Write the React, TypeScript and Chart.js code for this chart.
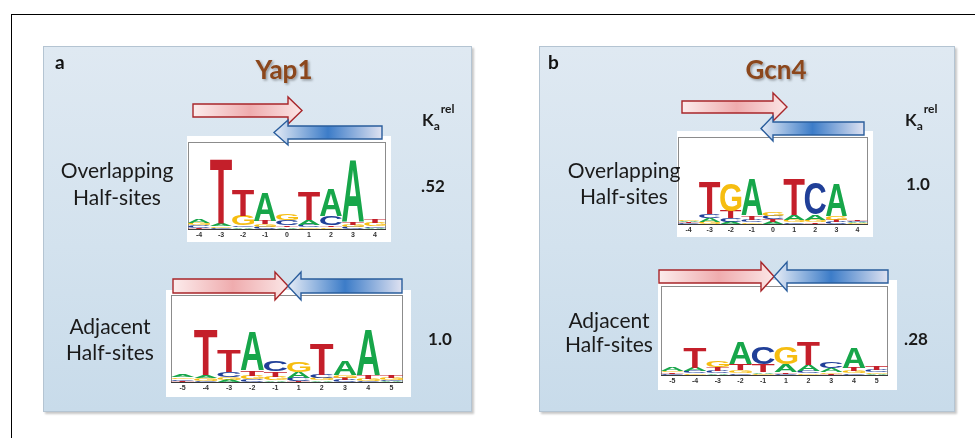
import React, { useEffect, useRef } from 'react';
import { Chart, registerables } from 'chart.js';
Chart.register(...registerables);

// ---------- data (information content in bits, read from the logos) ----------
const yap1OverlapPositions = ['-4', '-3', '-2', '-1', '0', '1', '2', '3', '4'];
const yap1OverlapA = [0.08, 0.06, 0.04, 0.64, 0.04, 0.12, 0.61, 1.42, 0.03];
const yap1OverlapC = [0.05, 0.02, 0.04, 0.05, 0.13, 0.05, 0.21, 0.05, 0.03];
const yap1OverlapG = [0.05, 0.04, 0.23, 0.06, 0.14, 0.04, 0.04, 0.05, 0.08];
const yap1OverlapT = [0.03, 1.47, 0.59, 0.08, 0.04, 0.64, 0.04, 0.06, 0.09];

const yap1AdjacentPositions = ['-5', '-4', '-3', '-2', '-1', '1', '2', '3', '4', '5'];
const yap1AdjacentA = [0.05, 0.07, 0.05, 0.9, 0.04, 0.13, 0.04, 0.32, 1.04, 0.02];
const yap1AdjacentC = [0.04, 0.03, 0.12, 0.06, 0.23, 0.08, 0.08, 0.05, 0.03, 0.03];
const yap1AdjacentG = [0.04, 0.05, 0.06, 0.08, 0.08, 0.23, 0.05, 0.06, 0.05, 0.05];
const yap1AdjacentT = [0.03, 1.04, 0.5, 0.12, 0.12, 0.02, 0.72, 0.05, 0.08, 0.06];

const gcn4OverlapPositions = ['-4', '-3', '-2', '-1', '0', '1', '2', '3', '4'];
const gcn4OverlapA = [0.03, 0.09, 0.05, 0.82, 0.05, 0.11, 0.11, 0.75, 0.03];
const gcn4OverlapC = [0.02, 0.1, 0.08, 0.06, 0.08, 0.04, 0.73, 0.05, 0.03];
const gcn4OverlapG = [0.03, 0.05, 0.63, 0.04, 0.09, 0.06, 0.06, 0.08, 0.02];
const gcn4OverlapT = [0.02, 0.73, 0.17, 0.09, 0.06, 0.82, 0.04, 0.05, 0.04];

const gcn4AdjacentPositions = ['-5', '-4', '-3', '-2', '-1', '1', '2', '3', '4', '5'];
const gcn4AdjacentA = [0.07, 0.07, 0.04, 0.5, 0.04, 0.17, 0.13, 0.08, 0.47, 0.03];
const gcn4AdjacentC = [0.03, 0.05, 0.05, 0.04, 0.39, 0.03, 0.06, 0.15, 0.04, 0.05];
const gcn4AdjacentG = [0.04, 0.04, 0.13, 0.07, 0.03, 0.39, 0.04, 0.04, 0.05, 0.04];
const gcn4AdjacentT = [0.03, 0.47, 0.08, 0.13, 0.17, 0.04, 0.52, 0.03, 0.07, 0.07];

const yap1Ka = ['.52', '1.0'];
const gcn4Ka = ['1.0', '.28'];

const letterColors: Record<string, string> = {
  A: '#17a64a',
  C: '#203f98',
  G: '#f6bd10',
  T: '#c41f2a',
};

// ---------- chart helpers ----------
const glyphPlugin = {
  id: 'glyphs',
  beforeDatasetsDraw(chart: any) {
    const { ctx, chartArea: a } = chart;
    ctx.save();
    ctx.strokeStyle = '#8c8c8c';
    ctx.lineWidth = 1;
    ctx.strokeRect(Math.round(a.left) + 0.5, Math.round(a.top) + 0.5, Math.round(a.right - a.left) - 1, Math.round(a.bottom - a.top));
    ctx.restore();
  },
  afterDatasetsDraw(chart: any) {
    const { ctx, chartArea: a } = chart;
    ctx.save();
    ctx.font = 'bold 200px "Liberation Sans", Arial, sans-serif';
    ctx.textBaseline = 'alphabetic';
    ctx.textAlign = 'left';
    chart.data.datasets.forEach((ds: any, di: number) => {
      const meta = chart.getDatasetMeta(di);
      meta.data.forEach((el: any, i: number) => {
        const letter = ds.letters[i];
        const { x, y, base, width } = el.getProps(['x', 'y', 'base', 'width'], true);
        const top = Math.min(y, base);
        const h = Math.abs(base - y);
        if (h < 0.3) return;
        const m = ctx.measureText(letter);
        const gw = m.actualBoundingBoxLeft + m.actualBoundingBoxRight;
        const gh = m.actualBoundingBoxAscent + m.actualBoundingBoxDescent;
        ctx.save();
        ctx.translate(x - width / 2, top);
        ctx.scale(width / gw, h / gh);
        ctx.fillStyle = letterColors[letter];
        ctx.fillText(letter, m.actualBoundingBoxLeft, m.actualBoundingBoxAscent);
        ctx.restore();
      });
    });
    ctx.strokeStyle = '#3a3a3a';
    ctx.lineWidth = 1;
    ctx.beginPath();
    ctx.moveTo(a.left, Math.round(a.bottom) + 0.5);
    ctx.lineTo(a.right, Math.round(a.bottom) + 0.5);
    ctx.stroke();
    ctx.restore();
  },
};

type LogoProps = {
  positions: string[];
  A: number[];
  C: number[];
  G: number[];
  T: number[];
  left: number;
  top: number;
  width: number;
  height: number;
  padL: number;
  padR: number;
  padT: number;
  axisH: number;
};

function Logo(p: LogoProps) {
  const ref = useRef<HTMLCanvasElement | null>(null);
  useEffect(() => {
    const letters = ['A', 'C', 'G', 'T'];
    const cols = p.positions.map((_, i) => {
      const vals = [p.A[i], p.C[i], p.G[i], p.T[i]];
      return letters.map((l, k) => ({ l, v: vals[k] })).sort((a, b) => a.v - b.v);
    });
    const datasets = [0, 1, 2, 3].map((r) => ({
      data: cols.map((col) => {
        let s = 0;
        for (let k = 0; k < r; k++) s += col[k].v;
        return [s, s + col[r].v];
      }),
      letters: cols.map((col) => col[r].l),
      backgroundColor: 'rgba(0,0,0,0)',
      borderWidth: 0,
      barPercentage: 1,
      categoryPercentage: 1,
      grouped: false,
    }));
    const chart = new Chart(ref.current as HTMLCanvasElement, {
      type: 'bar',
      data: { labels: p.positions, datasets: datasets as any },
      options: {
        animation: false,
        responsive: false,
        maintainAspectRatio: false,
        layout: { padding: { left: p.padL, right: p.padR, top: p.padT, bottom: 0 } },
        plugins: { legend: { display: false }, tooltip: { enabled: false } },
        scales: {
          x: {
            grid: { display: false, drawTicks: false },
            border: { display: false },
            ticks: {
              color: '#333',
              padding: 2,
              maxRotation: 0,
              autoSkip: false,
              font: { size: 7, weight: 'bold', family: '"Liberation Sans", Arial, sans-serif' },
            },
            afterFit: (s: any) => {
              s.height = p.axisH;
            },
          },
          y: { display: false, min: 0, max: 2 },
        },
      } as any,
      plugins: [glyphPlugin],
    });
    return () => chart.destroy();
  }, []);
  return (
    <div style={{ position: 'absolute', left: p.left, top: p.top, width: p.width, height: p.height, background: '#fff' }}>
      <canvas ref={ref} width={p.width} height={p.height} style={{ display: 'block' }} />
    </div>
  );
}

type ArrowDef = { x0: number; x1: number; xh: number; y0: number; y1: number; hy0: number; hy1: number };

function arrowPath(a: ArrowDef, dir: 'r' | 'l') {
  const mid = (a.hy0 + a.hy1) / 2;
  if (dir === 'r') {
    return `M${a.x0},${a.y0} L${a.xh},${a.y0} L${a.xh},${a.hy0} L${a.x1},${mid} L${a.xh},${a.hy1} L${a.xh},${a.y1} L${a.x0},${a.y1} Z`;
  }
  return `M${a.x1},${a.y0} L${a.xh},${a.y0} L${a.xh},${a.hy0} L${a.x0},${mid} L${a.xh},${a.hy1} L${a.xh},${a.y1} L${a.x1},${a.y1} Z`;
}

const arrows: { d: ArrowDef; dir: 'r' | 'l' }[] = [
  { d: { x0: 193, x1: 302, xh: 288, y0: 104, y1: 117, hy0: 97, hy1: 124 }, dir: 'r' },
  { d: { x0: 274, x1: 382, xh: 288, y0: 126, y1: 139, hy0: 120, hy1: 145 }, dir: 'l' },
  { d: { x0: 173, x1: 288, xh: 275, y0: 279, y1: 293, hy0: 272, hy1: 300 }, dir: 'r' },
  { d: { x0: 288, x1: 402, xh: 301, y0: 279, y1: 293, hy0: 272, hy1: 300 }, dir: 'l' },
  { d: { x0: 682, x1: 787, xh: 773, y0: 101, y1: 113, hy0: 93, hy1: 121 }, dir: 'r' },
  { d: { x0: 761, x1: 864, xh: 773, y0: 122, y1: 135, hy0: 116, hy1: 141 }, dir: 'l' },
  { d: { x0: 659, x1: 774, xh: 761, y0: 270, y1: 283, hy0: 262, hy1: 291 }, dir: 'r' },
  { d: { x0: 774, x1: 888, xh: 787, y0: 270, y1: 283, hy0: 262, hy1: 291 }, dir: 'l' },
];

const panelStyle = (left: number, width: number): React.CSSProperties => ({
  position: 'absolute',
  left,
  top: 46,
  width,
  height: 366,
  boxSizing: 'border-box',
  border: '1px solid #b4c4d2',
  background: 'linear-gradient(to bottom, #dfe9f2 0%, #d3e2ee 55%, #c8dbea 100%)',
  boxShadow: '2px 2px 2px rgba(0,0,0,0.22)',
});

const labelFont = 'Lato, "Open Sans", sans-serif';

function KaLabel({ x, y }: { x: number; y: number }) {
  return (
    <text x={x} y={y} fontFamily={labelFont} fontWeight="bold" fontSize={17} fill="#1a1a1a">
      K
      <tspan fontSize={12} dy={4}>a</tspan>
      <tspan fontSize={12} dx={1} dy={-17}>rel</tspan>
    </text>
  );
}

export default function App() {
  return (
    <div style={{ position: 'absolute', left: 0, top: 0, width: 975, height: 438, overflow: 'hidden', background: '#fff' }}>
      <div style={{ position: 'absolute', left: 11, top: 14, width: 980, height: 440, borderTop: '1.5px solid #000', borderLeft: '1.5px solid #000' }} />
      <div style={panelStyle(43, 429)} />
      <div style={panelStyle(539, 416)} />

      <Logo positions={yap1OverlapPositions} A={yap1OverlapA} C={yap1OverlapC} G={yap1OverlapG} T={yap1OverlapT}
        left={187} top={136} width={204} height={106} padL={1} padR={5} padT={6} axisH={13} />
      <Logo positions={yap1AdjacentPositions} A={yap1AdjacentA} C={yap1AdjacentC} G={yap1AdjacentG} T={yap1AdjacentT}
        left={166} top={290} width={245} height={107} padL={5} padR={8} padT={5} axisH={15} />
      <Logo positions={gcn4OverlapPositions} A={gcn4OverlapA} C={gcn4OverlapC} G={gcn4OverlapG} T={gcn4OverlapT}
        left={677} top={131} width={196} height={106} padL={1} padR={5} padT={6} axisH={13} />
      <Logo positions={gcn4AdjacentPositions} A={gcn4AdjacentA} C={gcn4AdjacentC} G={gcn4AdjacentG} T={gcn4AdjacentT}
        left={658} top={280} width={239} height={110} padL={3} padR={9} padT={6} axisH={15} />

      <svg width={975} height={438} style={{ position: 'absolute', left: 0, top: 0, pointerEvents: 'none' }}>
        <defs>
          <linearGradient id="redGrad" x1="0" y1="0" x2="1" y2="0">
            <stop offset="0" stopColor="#fcecec" />
            <stop offset="0.52" stopColor="#efacae" />
            <stop offset="1" stopColor="#fbe6e6" />
          </linearGradient>
          <linearGradient id="blueGrad" x1="0" y1="0" x2="1" y2="0">
            <stop offset="0" stopColor="#e6ecf6" />
            <stop offset="0.5" stopColor="#3c7cc8" />
            <stop offset="1" stopColor="#dfe2f1" />
          </linearGradient>
          <filter id="titleShadow" x="-20%" y="-20%" width="140%" height="160%">
            <feDropShadow dx="1.5" dy="1.5" stdDeviation="1" floodColor="#000" floodOpacity="0.35" />
          </filter>
        </defs>
        {arrows.map((a, i) => (
          <path key={i} d={arrowPath(a.d, a.dir)} fill={a.dir === 'r' ? 'url(#redGrad)' : 'url(#blueGrad)'}
            stroke={a.dir === 'r' ? '#a8262a' : '#2a5d9c'} strokeWidth={1.4} strokeLinejoin="miter" />
        ))}

        <text x={55} y={69} fontFamily={labelFont} fontWeight="bold" fontSize={19} fill="#111">a</text>
        <text x={548} y={69} fontFamily={labelFont} fontWeight="bold" fontSize={19} fill="#111">b</text>

        <text x={284} y={79} textAnchor="middle" fontFamily={labelFont} fontWeight="bold" fontSize={26} fill="#8b461b" filter="url(#titleShadow)">Yap1</text>
        <text x={776} y={79} textAnchor="middle" fontFamily={labelFont} fontWeight="bold" fontSize={26} fill="#8b461b" filter="url(#titleShadow)">Gcn4</text>

        <g fontFamily={labelFont} fontSize={21} fill="#1a1a1a" textAnchor="middle">
          <text x={117} y={178}>Overlapping</text>
          <text x={117} y={205}>Half-sites</text>
          <text x={110} y={334}>Adjacent</text>
          <text x={110} y={360}>Half-sites</text>
          <text x={624} y={178}>Overlapping</text>
          <text x={624} y={204}>Half-sites</text>
          <text x={609} y={328}>Adjacent</text>
          <text x={609} y={352}>Half-sites</text>
        </g>

        <KaLabel x={422} y={126} />
        <KaLabel x={905} y={126} />
        <g fontFamily={labelFont} fontWeight="bold" fontSize={17} fill="#1a1a1a" textAnchor="middle">
          <text x={433} y={192}>{yap1Ka[0]}</text>
          <text x={440} y={345}>{yap1Ka[1]}</text>
          <text x={918} y={190}>{gcn4Ka[0]}</text>
          <text x={916} y={345}>{gcn4Ka[1]}</text>
        </g>
      </svg>
    </div>
  );
}
